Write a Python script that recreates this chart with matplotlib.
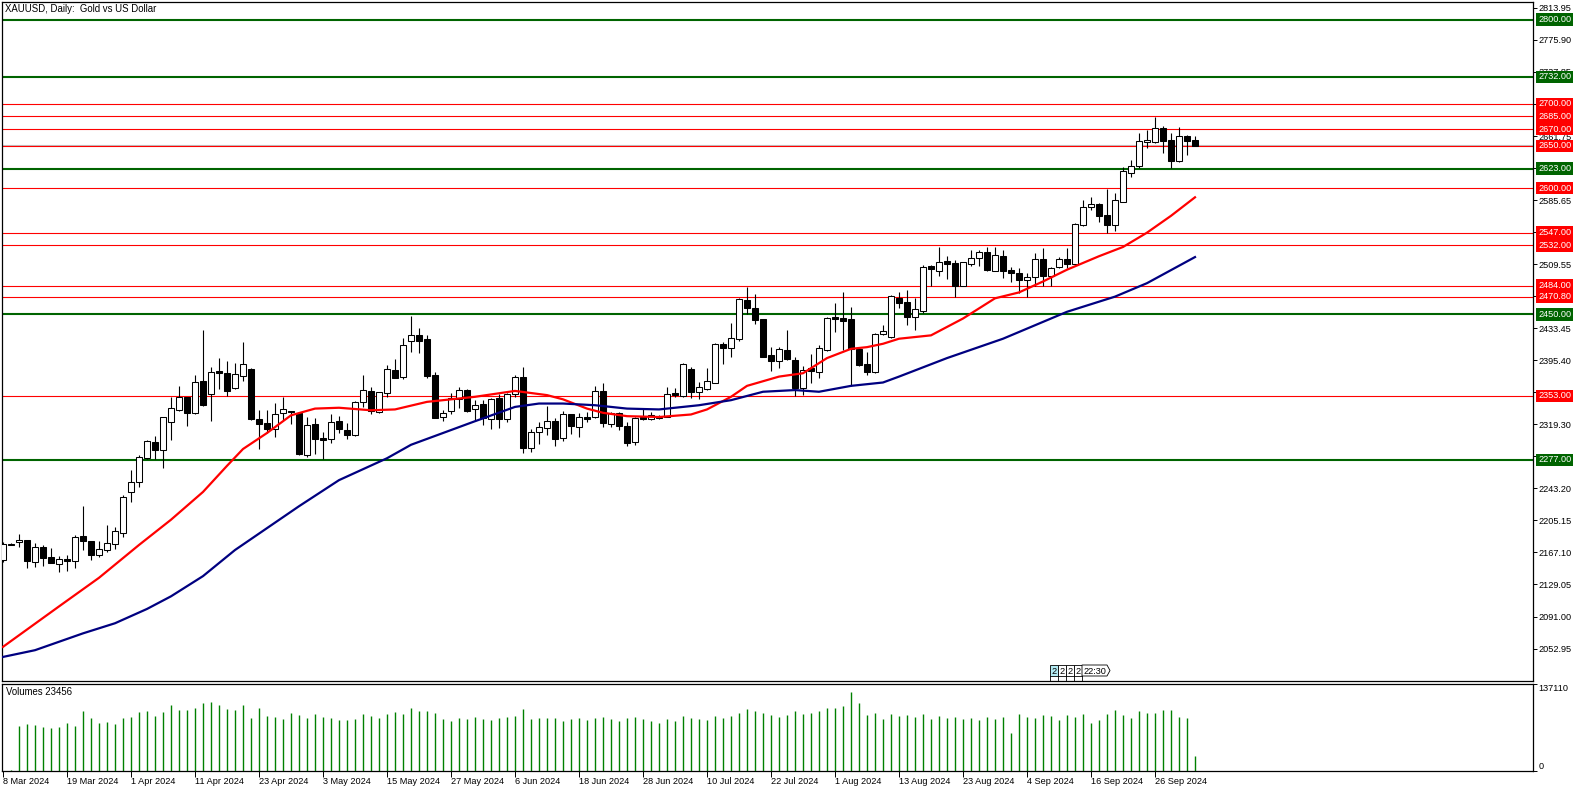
import matplotlib
matplotlib.use("Agg")
import matplotlib.pyplot as plt
from matplotlib.patches import Rectangle, Polygon

plt.rcParams["font.family"] = ["Liberation Sans", "DejaVu Sans"]

# daily XAUUSD candles, one per trading day starting 8 Mar 2024
opens = [
    2158.1, 2177.5, 2179.1, 2181.8, 2155.3, 2173.1, 2161.2, 2152.9, 2159.3, 2156.5,
    2186.6, 2180.7, 2163.6, 2170.0, 2177.1, 2189.8, 2238.5, 2250.3, 2278.9, 2298.3,
    2288.8, 2321.6, 2336.3, 2351.7, 2332.3, 2370.3, 2354.9, 2382.6, 2379.8, 2362.0,
    2377.1, 2384.6, 2325.2, 2320.4, 2313.3, 2332.3, 2335.5, 2333.1, 2282.9, 2319.7,
    2303.1, 2301.5, 2323.3, 2312.6, 2306.6, 2345.4, 2358.9, 2334.3, 2356.1, 2383.8,
    2375.9, 2417.9, 2425.4, 2420.3, 2377.5, 2327.6, 2335.5, 2349.0, 2360.1, 2337.1,
    2343.4, 2326.0, 2350.2, 2325.2, 2355.0, 2375.1, 2290.8, 2310.6, 2315.3, 2322.9,
    2302.7, 2331.6, 2316.5, 2328.4, 2327.6, 2358.5, 2319.3, 2333.1, 2317.7, 2298.0,
    2328.4, 2325.6, 2326.4, 2328.4, 2356.1, 2353.3, 2384.6, 2358.1, 2361.6, 2368.8,
    2414.3, 2410.4, 2420.3, 2467.0, 2457.1, 2444.0, 2401.6, 2395.0, 2407.6, 2395.7,
    2362.8, 2385.8, 2381.8, 2407.6, 2446.4, 2445.2, 2444.0, 2408.4, 2390.5, 2381.8,
    2426.6, 2422.6, 2469.4, 2464.6, 2446.4, 2454.3, 2507.4, 2501.8, 2512.9, 2510.6,
    2483.6, 2509.8, 2516.5, 2524.4, 2501.8, 2519.3, 2502.6, 2498.7, 2490.8, 2493.9,
    2515.3, 2495.5, 2505.8, 2515.3, 2509.8, 2556.1, 2577.9, 2581.0, 2568.0, 2556.1,
    2583.8, 2618.3, 2626.2, 2655.1, 2655.1, 2670.9, 2657.1, 2632.5, 2661.8, 2657.1,
]
highs = [
    2179.0, 2178.7, 2188.6, 2182.0, 2177.9, 2175.9, 2171.9, 2162.8, 2164.0, 2187.8,
    2222.2, 2180.7, 2181.0, 2199.7, 2197.7, 2235.7, 2265.0, 2282.8, 2300.6, 2305.4,
    2328.4, 2352.1, 2364.8, 2352.0, 2377.9, 2431.3, 2387.0, 2397.7, 2394.5, 2391.7,
    2417.0, 2385.8, 2336.3, 2336.3, 2344.2, 2351.3, 2335.5, 2334.3, 2328.4, 2326.4,
    2310.6, 2331.6, 2329.2, 2321.3, 2347.0, 2377.9, 2364.0, 2358.1, 2389.8, 2396.5,
    2421.5, 2448.0, 2433.3, 2425.4, 2381.9, 2336.3, 2356.9, 2363.2, 2361.3, 2348.2,
    2348.2, 2350.2, 2355.0, 2356.1, 2377.9, 2387.8, 2313.4, 2322.5, 2341.1, 2326.4,
    2335.5, 2331.6, 2333.2, 2334.3, 2364.8, 2368.0, 2334.3, 2334.3, 2322.4, 2328.4,
    2338.3, 2334.3, 2330.4, 2364.0, 2362.0, 2391.7, 2387.8, 2370.0, 2385.8, 2415.5,
    2417.5, 2440.0, 2469.0, 2482.8, 2474.1, 2444.0, 2410.8, 2410.8, 2431.3, 2399.7,
    2388.6, 2402.4, 2413.5, 2447.2, 2463.0, 2476.9, 2458.3, 2409.6, 2405.6, 2427.4,
    2437.3, 2472.9, 2476.5, 2478.9, 2469.0, 2508.6, 2508.6, 2530.4, 2519.3, 2514.5,
    2512.5, 2526.4, 2526.4, 2530.4, 2530.4, 2526.4, 2506.6, 2505.4, 2498.7, 2522.4,
    2528.4, 2506.6, 2517.7, 2528.4, 2558.9, 2585.8, 2589.0, 2582.6, 2598.5, 2593.7,
    2625.4, 2633.3, 2665.0, 2668.9, 2684.0, 2673.7, 2665.0, 2672.9, 2663.0, 2661.8,
]
lows = [
    2156.0, 2175.5, 2173.9, 2148.6, 2150.2, 2150.9, 2154.1, 2144.2, 2145.4, 2148.2,
    2170.0, 2158.1, 2162.0, 2167.2, 2170.8, 2185.8, 2227.4, 2245.2, 2277.7, 2277.7,
    2267.0, 2300.6, 2335.5, 2317.3, 2331.5, 2341.4, 2323.6, 2361.2, 2352.9, 2361.2,
    2370.7, 2324.4, 2290.3, 2308.6, 2303.8, 2324.4, 2319.6, 2282.8, 2280.1, 2284.0,
    2277.7, 2296.7, 2308.6, 2302.3, 2305.4, 2340.3, 2331.2, 2333.2, 2351.4, 2373.9,
    2372.8, 2405.6, 2404.4, 2373.9, 2326.4, 2323.6, 2331.6, 2338.3, 2334.3, 2323.6,
    2318.5, 2313.4, 2314.5, 2322.5, 2352.2, 2285.6, 2286.8, 2295.9, 2306.6, 2293.6,
    2299.9, 2307.8, 2304.6, 2322.5, 2326.4, 2316.5, 2316.5, 2312.0, 2293.0, 2295.0,
    2324.4, 2324.4, 2325.2, 2328.4, 2352.2, 2352.2, 2350.2, 2349.0, 2360.1, 2368.0,
    2391.0, 2399.7, 2418.7, 2450.3, 2438.5, 2398.9, 2383.0, 2385.8, 2395.7, 2353.0,
    2354.1, 2368.8, 2373.9, 2406.8, 2429.4, 2407.6, 2364.8, 2388.6, 2377.9, 2379.9,
    2425.4, 2421.4, 2457.1, 2436.9, 2431.4, 2451.2, 2483.6, 2495.9, 2492.0, 2471.0,
    2483.6, 2507.4, 2507.4, 2501.8, 2501.8, 2492.7, 2488.8, 2475.7, 2470.1, 2483.6,
    2483.6, 2483.6, 2504.6, 2504.6, 2508.2, 2554.9, 2573.9, 2560.1, 2547.0, 2549.4,
    2583.8, 2612.7, 2623.4, 2647.2, 2653.9, 2642.0, 2623.4, 2631.3, 2639.3, 2650.0,
]
closes = [
    2177.1, 2176.3, 2181.8, 2157.3, 2173.1, 2160.9, 2154.9, 2158.9, 2156.5, 2185.0,
    2180.3, 2163.6, 2170.8, 2177.9, 2193.0, 2232.5, 2251.1, 2280.0, 2299.1, 2289.2,
    2328.4, 2338.3, 2352.1, 2333.1, 2369.2, 2341.8, 2381.8, 2380.6, 2358.5, 2379.0,
    2390.9, 2325.6, 2319.6, 2313.3, 2331.1, 2337.1, 2333.5, 2284.0, 2318.5, 2302.3,
    2300.7, 2321.7, 2313.4, 2307.0, 2345.4, 2360.1, 2335.1, 2357.3, 2384.6, 2374.7,
    2413.1, 2425.0, 2418.7, 2377.1, 2327.2, 2332.4, 2350.6, 2360.1, 2335.5, 2341.9,
    2326.4, 2349.0, 2325.2, 2355.0, 2375.1, 2291.6, 2309.8, 2315.7, 2322.9, 2302.3,
    2331.2, 2317.7, 2327.6, 2326.0, 2358.9, 2320.5, 2333.1, 2317.7, 2297.0, 2326.4,
    2325.6, 2330.4, 2328.4, 2354.9, 2354.1, 2390.5, 2358.1, 2363.2, 2370.8, 2414.3,
    2409.6, 2421.4, 2467.8, 2457.1, 2443.2, 2399.7, 2395.0, 2408.4, 2396.5, 2362.8,
    2383.8, 2382.6, 2409.6, 2445.2, 2444.4, 2442.4, 2408.4, 2389.8, 2381.4, 2426.6,
    2430.2, 2471.7, 2463.8, 2446.4, 2455.9, 2505.8, 2503.4, 2512.5, 2509.8, 2483.6,
    2511.7, 2516.5, 2524.0, 2502.6, 2520.5, 2501.8, 2498.7, 2490.8, 2493.9, 2515.3,
    2495.5, 2504.6, 2515.3, 2509.8, 2557.3, 2577.1, 2580.6, 2566.8, 2556.1, 2585.8,
    2620.3, 2626.2, 2655.9, 2657.1, 2670.9, 2656.3, 2632.5, 2661.8, 2656.3, 2650.0,
]
volumes = [
    0, 1600, 70400, 73500, 71900, 68800, 67300, 68800, 75100, 70400,
    93800, 82900, 75100, 76600, 73500, 82900, 84500, 92300, 93800, 86000,
    92300, 104800, 95400, 95400, 98500, 106400, 109500, 104800, 97000, 95400,
    104800, 82900, 98500, 86000, 84500, 81300, 90700, 87600, 82900, 89100,
    84500, 82900, 79800, 79800, 81300, 89100, 86000, 82900, 89100, 92300,
    89100, 98500, 93800, 93800, 90700, 81300, 78200, 82900, 81300, 84500,
    81300, 79800, 82900, 84500, 86000, 97000, 81300, 82900, 82900, 82900,
    78200, 81300, 82900, 79800, 82900, 84500, 81300, 78200, 82900, 84500,
    81300, 78200, 75100, 81300, 78200, 86000, 82900, 81300, 79800, 86000,
    82900, 86000, 90700, 97000, 93800, 90700, 87600, 84500, 87600, 93800,
    89100, 90700, 93800, 98500, 98500, 103200, 125100, 106400, 87600, 90700,
    81300, 89100, 86000, 87600, 84500, 89100, 81300, 86000, 82900, 84500,
    81300, 82900, 79800, 84500, 81300, 84500, 59400, 89100, 84500, 82900,
    87600, 86000, 79800, 87600, 84500, 89100, 75100, 79800, 89100, 95400,
    87600, 82900, 93800, 90700, 90700, 95400, 95400, 84500, 82900, 23456,
]

# moving averages (bar index, price)
ma_fast_idx = [0, 7, 12, 17, 21, 25, 28, 30, 33, 36, 39, 42, 46, 49, 53, 59, 64, 68, 70,
               73, 75, 78, 82, 86, 88, 91, 93, 97, 100, 103, 106, 108, 110, 112, 116,
               120, 124, 127, 130, 133, 137, 140, 143, 146, 149]
ma_fast = [2055, 2103, 2137, 2176, 2206, 2239, 2270, 2290, 2309, 2330, 2338, 2339, 2336,
           2337, 2346, 2352, 2359, 2354, 2349, 2338, 2333, 2329, 2328, 2331, 2337, 2352,
           2365, 2376, 2380, 2398, 2409, 2411, 2415, 2421, 2425, 2445, 2469, 2476, 2489,
           2503, 2519, 2530, 2547, 2567, 2589]
ma_slow_idx = [0, 4, 10, 14, 18, 21, 25, 29, 33, 37, 42, 48, 51, 55, 59, 64, 67, 70, 74,
               78, 82, 87, 91, 95, 99, 102, 106, 110, 112, 118, 125, 133, 139, 143, 149]
ma_slow = [2043, 2051, 2071, 2083, 2100, 2115, 2139, 2170, 2196, 2222, 2253, 2279, 2295,
           2309, 2323, 2340, 2344, 2344, 2342, 2338, 2337, 2342, 2348, 2358, 2360, 2358,
           2365, 2369, 2376, 2398, 2421, 2453, 2471, 2487, 2518]

green_levels = [2800.00, 2732.00, 2623.00, 2450.00, 2277.00]
red_levels = [2700.00, 2685.00, 2670.00, 2650.00, 2600.00, 2547.00, 2532.00,
              2484.00, 2470.80, 2353.00]
bid_price = 2651.0

price_ticks = [2813.95 - 38.05 * k for k in range(21)]
date_labels = ["8 Mar 2024", "19 Mar 2024", "1 Apr 2024", "11 Apr 2024", "23 Apr 2024",
               "3 May 2024", "15 May 2024", "27 May 2024", "6 Jun 2024", "18 Jun 2024",
               "28 Jun 2024", "10 Jul 2024", "22 Jul 2024", "1 Aug 2024", "13 Aug 2024",
               "23 Aug 2024", "4 Sep 2024", "16 Sep 2024", "26 Sep 2024"]
vol_max = 137110

W, H = 1586, 792
FS = 6.6
GREEN = "#006400"
RED = "#ff0000"


def level_tag(ax, price, color):
    ax.annotate(f"{price:.2f}", xy=(1, price), xycoords=ax.get_yaxis_transform(),
                xytext=(5, 0), textcoords="offset pixels", ha="left", va="center",
                color="white", fontsize=FS, zorder=10, annotation_clip=False,
                bbox=dict(boxstyle="square,pad=0.2", fc=color, ec="none"))


def draw_price(ax):
    x = list(range(len(opens)))
    for lvl in green_levels:
        ax.axhline(lvl, color=GREEN, lw=1.5, zorder=1)
        level_tag(ax, lvl, GREEN)
    for lvl in red_levels:
        ax.axhline(lvl, color=RED, lw=0.8, zorder=1)
        level_tag(ax, lvl, RED)
    ax.axhline(bid_price, color="#c0c0c0", lw=0.8, zorder=0.9)

    ax.vlines(x, lows, highs, color="black", lw=0.8, zorder=3)
    for i in x:
        o, c = opens[i], closes[i]
        body = max(abs(c - o), 1.2)
        fc = "white" if c >= o else "black"
        ax.bar(i, body, bottom=min(o, c), width=0.64, color=fc, edgecolor="black",
               lw=0.75, zorder=4)

    ax.plot(ma_fast_idx, ma_fast, color=RED, lw=1.6, zorder=5)
    ax.plot(ma_slow_idx, ma_slow, color="#000080", lw=1.6, zorder=5)

    ax.set_ylim(2014.4, 2821.0)
    ax.set_yticks(price_ticks)
    ax.set_yticklabels([f"{p:.2f}" for p in price_ticks])
    ax.yaxis.tick_right()
    ax.tick_params(axis="y", length=3, width=0.7, pad=1, labelsize=FS)
    ax.tick_params(axis="x", bottom=False, labelbottom=False)
    ax.annotate("XAUUSD, Daily:  Gold vs US Dollar", xy=(0, 1), xycoords="axes fraction",
                xytext=(3, -2), textcoords="offset pixels", ha="left", va="top",
                fontsize=6.9)


def draw_volume(ax):
    x = list(range(len(volumes)))
    ax.vlines(x, 0, volumes, color="#008000", lw=1.0)
    ax.set_ylim(0, vol_max)
    ax.set_yticks([0, vol_max])
    ax.set_yticklabels(["0", str(vol_max)])
    ax.yaxis.tick_right()
    ax.tick_params(axis="y", length=3, width=0.7, pad=1, labelsize=FS)
    labs = ax.get_yticklabels()
    labs[0].set_va("bottom")
    labs[1].set_va("top")
    ax.set_xticks(range(0, 8 * len(date_labels), 8))
    ax.set_xticklabels(date_labels, ha="left")
    ax.tick_params(axis="x", length=4, width=0.7, pad=0.5, labelsize=FS)
    ax.annotate(f"Volumes {volumes[-1]}", xy=(0, 1), xycoords="axes fraction",
                xytext=(4, -3), textcoords="offset pixels", ha="left", va="top",
                fontsize=6.9)


def draw_markers(fig):
    # small event flags drawn by the terminal just above the volume pane
    ov = fig.add_axes([0, 0, 1, 1], zorder=20)
    ov.set_xlim(0, W)
    ov.set_ylim(H, 0)
    ov.axis("off")
    lefts = [1050, 1058, 1066, 1074]
    for k, left in enumerate(lefts):
        fc = "#b4ecf4" if k == 0 else "white"
        ov.add_patch(Rectangle((left, 665), 8, 11, fc=fc, ec="black", lw=0.6))
        ov.text(left + 4, 671, "2", ha="center", va="center", fontsize=FS)
        ov.plot([left, left], [676, 681], color="black", lw=0.6)
    ov.add_patch(Polygon([(1082, 665), (1107, 665), (1110, 670.5), (1107, 676), (1082, 676)],
                         closed=True, fc="white", ec="black", lw=0.6))
    ov.text(1095, 671, "22:30", ha="center", va="center", fontsize=FS)
    ov.plot([1082, 1082], [676, 681], color="black", lw=0.6)


def main():
    fig = plt.figure(figsize=(W / 100, H / 100), dpi=100)
    left, width = 2 / W, 1531 / W
    ax = fig.add_axes([left, 1 - 681 / H, width, 679 / H])
    axv = fig.add_axes([left, 1 - 771 / H, width, 87 / H])
    for a in (ax, axv):
        a.set_xlim(-0.125, 191.25)
        for s in a.spines.values():
            s.set_linewidth(0.9)
    draw_price(ax)
    draw_volume(axv)
    draw_markers(fig)
    fig.savefig("out.png", dpi=100, facecolor="white")
    plt.close(fig)


if __name__ == "__main__":
    main()
